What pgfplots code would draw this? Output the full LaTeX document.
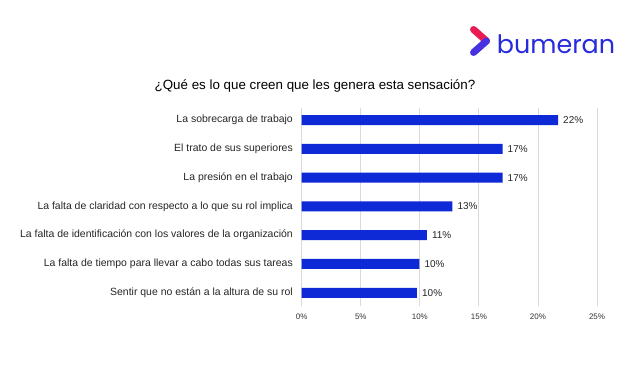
\documentclass[border=0pt]{standalone}
\usepackage{pgfplots}
\pgfplotsset{compat=1.18}
\usepackage{pgfplotstable}
\usepackage{fontspec}
\setmainfont{Liberation Sans}
\newfontfamily\logofont{Poppins}
\definecolor{barblue}{RGB}{14,42,214}
\definecolor{gridgray}{RGB}{218,218,218}
\definecolor{logoblue}{RGB}{40,42,222}
\definecolor{logored}{RGB}{232,28,82}
\definecolor{logoviolet}{RGB}{70,50,225}

\pgfplotstableread{
y x label
6 21.7 22
5 17.0 17
4 17.0 17
3 12.75 13
2 10.6 11
1 9.96 10
0 9.76 10
}\datatable

\begin{document}
\begin{tikzpicture}[x=1bp,y=1bp]
\useasboundingbox (0,0) rectangle (640,374);
\fill[white] (0,0) rectangle (640,374);
% logo
\draw[line width=7bp, line cap=round, logored] (473.5,344.5) -- (486.5,333);
\draw[line width=7bp, line cap=round, logoviolet] (486.5,333) -- (473.5,321.5);
\node[anchor=base west, inner sep=0pt, text=logoblue] at (496.7,320.7) {\logofont\fontsize{25.5}{30}\selectfont bumeran};
% title
\node at (315,288) {\fontsize{13.4}{16}\selectfont ¿Qué es lo que creen que les genera esta sensación?};
\begin{axis}[
  at={(301.7bp,68bp)}, anchor=south west,
  scale only axis, width=295.3bp, height=198bp,
  xmin=0, xmax=25, ymin=-0.46, ymax=6.42,
  xbar, bar width=10bp, bar shift=0pt,
  axis line style={draw=none},
  major tick length=0pt,
  xtick={0,5,10,15,20,25},
  xticklabel={\pgfmathprintnumber{\tick}\%},
  /pgf/number format/assume math mode=true,
  xmajorgrids, grid style={gridgray, line width=0.8bp},
  xticklabel style={font=\fontsize{8}{10}\selectfont, anchor=center, yshift=-11bp, text=black!80},
  ytick={0,1,2,3,4,5,6},
  yticklabels={Sentir que no están a la altura de su rol,
    La falta de tiempo para llevar a cabo todas sus tareas,
    La falta de identificación con los valores de la organización,
    La falta de claridad con respecto a lo que su rol implica,
    La presión en el trabajo,
    El trato de sus superiores,
    La sobrecarga de trabajo},
  yticklabel style={font=\fontsize{10.5}{12}\selectfont, anchor=east, inner sep=0pt, xshift=-8.7bp, text=black!85},
  nodes near coords={\pgfplotspointmeta\%},
  point meta=explicit symbolic,
  nodes near coords style={font=\fontsize{10}{12}\selectfont, anchor=west, inner sep=0pt, xshift=5bp, text=black!85},
  clip=false,
]
\addplot[fill=barblue, draw=none] table[x=x, y=y, meta=label] \datatable;
\end{axis}
\end{tikzpicture}
\end{document}
